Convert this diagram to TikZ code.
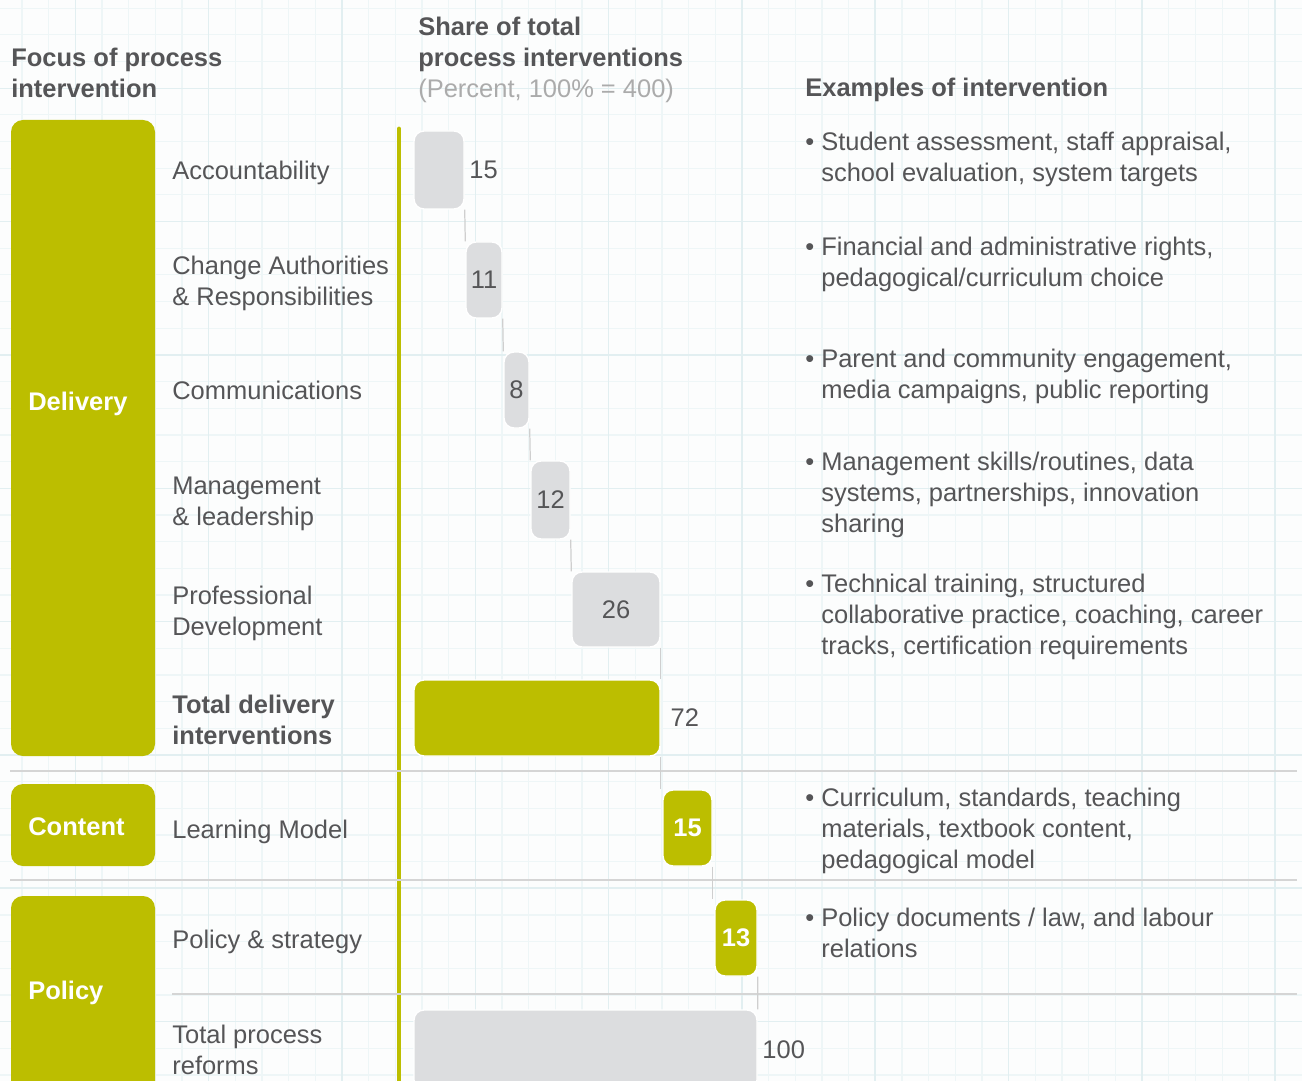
\documentclass[tikz,border=0pt]{standalone}
\usepackage{fontspec}
\setmainfont{Liberation Sans}
\usepackage{tikz}
\usetikzlibrary{positioning,fit}
\definecolor{barolive}{HTML}{BCBE00}
\definecolor{bargray}{HTML}{DCDDDF}
\definecolor{txt}{HTML}{555557}
\definecolor{pct}{HTML}{ABABAB}
\definecolor{rulec}{HTML}{D5D5D5}
\definecolor{linkc}{HTML}{CFCFCF}
\definecolor{gridlo}{HTML}{EEF6F7}
\definecolor{gridhi}{HTML}{E2EFF1}
\definecolor{paper}{HTML}{FCFDFD}
\newcommand{\chartfont}{\fontsize{14.5}{17.6}\selectfont}
\newcommand{\bul}{\llap{\textbullet\ }}

\begin{document}
\begin{tikzpicture}[x=0.02cm, y=-0.02cm, font=\chartfont, text=txt,
    lbl/.style={anchor=north west, inner sep=0pt, align=left, execute at begin node=\strut},
    head/.style={lbl, font=\chartfont\bfseries},
    catbox/.style={fill=barolive, rounded corners=0.24cm, inner sep=0pt},
    catname/.style={lbl, font=\chartfont\bfseries, text=white},
    bar/.style={fill=bargray, draw=white, line width=0.8pt, rounded corners=0.2cm, inner sep=0pt},
    hibar/.style={bar, fill=barolive},
    num/.style={inner sep=0pt, text=txt, font=\chartfont},
    hinum/.style={inner sep=0pt, text=white, font=\chartfont\bfseries},
    val/.style={inner sep=2.5pt, text=txt, font=\chartfont},
    link/.style={draw=linkc, line width=0.7pt},
    rule/.style={draw=rulec, line width=1.1pt}]
  \useasboundingbox (0,0) rectangle (1302,1081);
  \clip (0,0) rectangle (1302,1081);
  \fill[paper] (0,0) rectangle (1302,1081);
  \foreach \i in {0,...,48} \draw[gridlo, line width=0.6pt] ({22+26.667*\i},0) -- ++(0,1081);
  \foreach \j in {0,...,40} \draw[gridlo, line width=0.6pt] (0,{8.3+26.667*\j}) -- ++(1302,0);
  \foreach \i in {0,...,9} \draw[gridhi, line width=0.9pt] ({75.3+133.33*\i},0) -- ++(0,1081);
  \foreach \j in {-1,...,7} \draw[gridhi, line width=0.9pt] (0,{88.3+133.33*\j}) -- ++(1302,0);

  \node[catbox, fit={(11,120) (155,756)}] (delivery) {};
  \node[catbox, fit={(11,784) (155,866)}] (content) {};
  \node[catbox, fit={(11,896) (155,1100)}] (policy) {};
  \node[catname] (deliverylbl) at (28,389) {Delivery};
  \node[catname] (contentlbl) at (28,813) {Content};
  \node[catname] (policylbl) at (28,977) {Policy};

  \draw[barolive, line width=2.8pt, line cap=round] (399,129) -- (399,1100);
  \draw[rule] (10,771) -- (1297,771);
  \draw[rule] (10,880) -- (1297,880);
  \draw[rule] (172,994) -- (1297,994);

  \node[head] (focushead) at (11,48) {Focus of process\\intervention};
  \node[head] (sharehead) at (418,17) {Share of total\\process interventions\\{\mdseries\color{pct}(Percent, 100\% = 400)}};
  \node[head] (examplehead) at (805,75) {Examples of intervention};

  \node[bar, fit={(414,131) (464,209)}, label={[val]right:15}] (acc) {};
  \node[bar, fit={(466,242) (502,318)}, label={[num]center:11}] (car) {};
  \node[bar, fit={(504,352) (529,428)}, label={[num]center:8}] (com) {};
  \node[bar, fit={(531,461) (570,539)}, label={[num]center:12}] (mgt) {};
  \node[bar, fit={(572,572) (660,647)}, label={[num]center:26}] (pd) {};
  \node[hibar, fit={(414,680) (660,756)}, label={[val, xshift=3pt]right:72}] (totdel) {};
  \node[hibar, fit={(663,790) (712,866)}, label={[hinum]center:15}] (lm) {};
  \node[hibar, fit={(715,900) (757,976)}, label={[hinum]center:13}] (pol) {};
  \node[bar, fit={(414,1010) (757,1090)}, label={[val]right:100}] (totref) {};

  \foreach \a/\b in {acc/car,car/com,com/mgt,mgt/pd}
    \draw[link] (\a.south east) -- (\b.north west);
  \draw[link] (pd.south east) -- (totdel.north east);
  \draw[link] (totdel.south east) -- (totdel.south east |- lm.north);
  \draw[link] (lm.south east) -- (lm.south east |- pol.north);
  \draw[link] (pol.south east) -- (totref.north east);

  \node[lbl] (accl) at (172,158) {Accountability};
  \node[lbl] (carl) at (172,256) {Change Authorities\\\& Responsibilities};
  \node[lbl] (coml) at (172,378) {Communications};
  \node[lbl] (mgtl) at (172,477) {Management\\\& leadership};
  \node[lbl] (pdl) at (172,586) {Professional\\Development};
  \node[head] (totdell) at (172,695) {Total delivery\\interventions};
  \node[lbl] (lml) at (172,816) {Learning Model};
  \node[lbl] (poll) at (172,926) {Policy \& strategy};
  \node[lbl] (totrefl) at (172,1025) {Total process\\reforms};

  \node[lbl] (accx) at (821,132) {\bul Student assessment, staff appraisal,\\school evaluation, system targets};
  \node[lbl] (carx) at (821,237) {\bul Financial and administrative rights,\\pedagogical/curriculum choice};
  \node[lbl] (comx) at (821,349) {\bul Parent and community engagement,\\media campaigns, public reporting};
  \node[lbl] (mgtx) at (821,452) {\bul Management skills/routines, data\\systems, partnerships, innovation\\sharing};
  \node[lbl] (pdx) at (821,574) {\bul Technical training, structured\\collaborative practice, coaching, career\\tracks, certification requirements};
  \node[lbl] (lmx) at (821,788) {\bul Curriculum, standards, teaching\\materials, textbook content,\\pedagogical model};
  \node[lbl] (polx) at (821,908) {\bul Policy documents / law, and labour\\relations};
\end{tikzpicture}
\end{document}
